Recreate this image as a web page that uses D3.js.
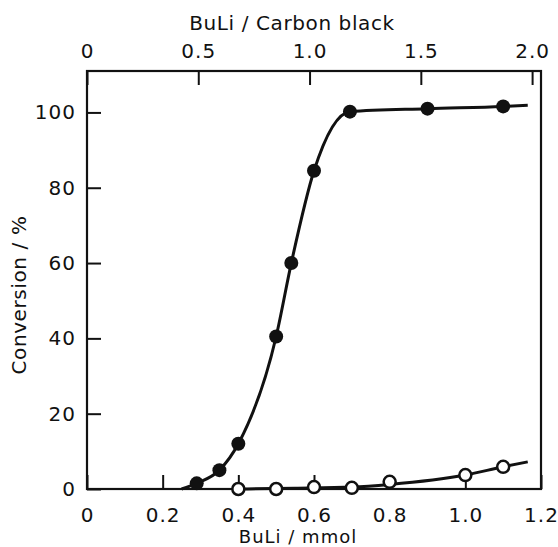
<!DOCTYPE html>
<html>
<head>
<meta charset="utf-8">
<script src="https://cdn.jsdelivr.net/npm/d3@7"></script>
<style>
    body { margin: 0; background: #fff; }
    text { font-family: "DejaVu Sans", sans-serif; fill: #111; }
</style>
</head>
<body>
<div id="chart-area"></div>
<script>

const filledMmol = [0.29, 0.35, 0.40, 0.50, 0.54, 0.60, 0.695, 0.90, 1.10];
const filledConv = [1.5, 5.0, 12.0, 40.5, 60.0, 84.5, 100.2, 101.0, 101.6];

const openMmol = [0.40, 0.50, 0.60, 0.70, 0.80, 1.00, 1.10];
const openConv = [0.0, 0.0, 0.5, 0.3, 1.9, 3.7, 5.9];

// hand drawn fit curves
const filledCurveMmol = [0.25, 0.29, 0.35, 0.40, 0.50, 0.54, 0.60, 0.695, 0.90, 1.10, 1.165];
const filledCurveConv = [0.0, 1.5, 5.0, 12.0, 40.5, 60.0, 84.5, 100.2, 101.0, 101.6, 101.9];

const openCurveMmol = [0.40, 0.55, 0.70, 0.80, 1.00, 1.10, 1.165];
const openCurveConv = [0.0, 0.2, 0.5, 1.2, 3.7, 5.9, 7.2];

// tick labels
const bottomTicks = [0, 0.2, 0.4, 0.6, 0.8, 1.0, 1.2];
const topTicks = [0, 0.5, 1.0, 1.5, 2.0];
const leftTicks = [0, 20, 40, 60, 80, 100];

// BuLi / Carbon black per mmol BuLi
const ratioPerMmol = 1.7;

class ConversionChart {
    constructor(parentElement) {
        this.parentElement = parentElement;
        this.initVis();
    }

    initVis() {
        let vis = this;

        vis.width = 558;
        vis.height = 547;
        vis.frame = {left: 87, right: 541, top: 71, bottom: 489};

        vis.svg = d3.select("#" + vis.parentElement).append("svg")
            .attr("width", vis.width)
            .attr("height", vis.height);

        vis.x = d3.scaleLinear()
            .domain([0, 1.2])
            .range([vis.frame.left, vis.frame.right]);

        vis.xTop = d3.scaleLinear()
            .domain([0, 1.2 * ratioPerMmol])
            .range([vis.frame.left, vis.frame.right]);

        vis.y = d3.scaleLinear()
            .domain([0, 111])
            .range([vis.frame.bottom, vis.frame.top]);

        vis.updateVis();
    }

    updateVis() {
        let vis = this;
        const fmt = d => d === 0 ? "0" : d3.format(".1f")(d);

        // axes, ticks point inward
        let bottomAxis = d3.axisBottom(vis.x)
            .tickValues(bottomTicks)
            .tickFormat(fmt)
            .tickSizeInner(-14)
            .tickSizeOuter(0)
            .tickPadding(19);

        let topAxis = d3.axisTop(vis.xTop)
            .tickValues(topTicks)
            .tickFormat(fmt)
            .tickSizeInner(-14)
            .tickSizeOuter(0)
            .tickPadding(13);

        let leftAxis = d3.axisLeft(vis.y)
            .tickValues(leftTicks)
            .tickSizeInner(-14)
            .tickSizeOuter(0)
            .tickPadding(11);

        vis.svg.append("g")
            .attr("class", "axis")
            .attr("transform", `translate(0, ${vis.frame.bottom})`)
            .call(bottomAxis);

        vis.svg.append("g")
            .attr("class", "axis")
            .attr("transform", `translate(0, ${vis.frame.top})`)
            .call(topAxis);

        vis.svg.append("g")
            .attr("class", "axis")
            .attr("transform", `translate(${vis.frame.left}, 0)`)
            .call(leftAxis);

        vis.svg.selectAll(".axis .domain").remove();
        vis.svg.selectAll(".axis line")
            .attr("stroke", "#111")
            .attr("stroke-width", 2);
        vis.svg.selectAll(".axis text")
            .attr("font-size", 20)
            .attr("letter-spacing", 1)
            .attr("fill", "#111")
            .style("font-family", null);

        // frame
        vis.svg.append("rect")
            .attr("x", vis.frame.left)
            .attr("y", vis.frame.top)
            .attr("width", vis.frame.right - vis.frame.left)
            .attr("height", vis.frame.bottom - vis.frame.top)
            .attr("fill", "none")
            .attr("stroke", "#111")
            .attr("stroke-width", 2.2);

        // axis titles
        vis.svg.append("text")
            .attr("x", 292)
            .attr("y", 30)
            .attr("text-anchor", "middle")
            .attr("font-size", 20)
            .attr("letter-spacing", 0.6)
            .text("BuLi / Carbon black");

        vis.svg.append("text")
            .attr("x", 298)
            .attr("y", 543)
            .attr("text-anchor", "middle")
            .attr("font-size", 18)
            .attr("letter-spacing", 1)
            .text("BuLi / mmol");

        vis.svg.append("text")
            .attr("transform", "translate(26, 295) rotate(-90)")
            .attr("text-anchor", "middle")
            .attr("font-size", 20)
            .attr("letter-spacing", 0.6)
            .text("Conversion / %");

        // fit curves
        let line = d3.line()
            .x(d => vis.x(d[0]))
            .y(d => vis.y(d[1]))
            .curve(d3.curveMonotoneX);

        vis.svg.append("path")
            .datum(d3.zip(filledCurveMmol, filledCurveConv))
            .attr("d", line)
            .attr("fill", "none")
            .attr("stroke", "#111")
            .attr("stroke-width", 3);

        vis.svg.append("path")
            .datum(d3.zip(openCurveMmol, openCurveConv))
            .attr("d", line)
            .attr("fill", "none")
            .attr("stroke", "#111")
            .attr("stroke-width", 3);

        // open circles
        vis.svg.selectAll(".open-pt")
            .data(d3.zip(openMmol, openConv))
            .enter().append("circle")
            .attr("class", "open-pt")
            .attr("cx", d => vis.x(d[0]))
            .attr("cy", d => vis.y(d[1]))
            .attr("r", 6)
            .attr("fill", "#fff")
            .attr("stroke", "#111")
            .attr("stroke-width", 2.5);

        // filled circles
        vis.svg.selectAll(".filled-pt")
            .data(d3.zip(filledMmol, filledConv))
            .enter().append("circle")
            .attr("class", "filled-pt")
            .attr("cx", d => vis.x(d[0]))
            .attr("cy", d => vis.y(d[1]))
            .attr("r", 7)
            .attr("fill", "#111");
    }
}

new ConversionChart("chart-area");
</script>
</body>
</html>
